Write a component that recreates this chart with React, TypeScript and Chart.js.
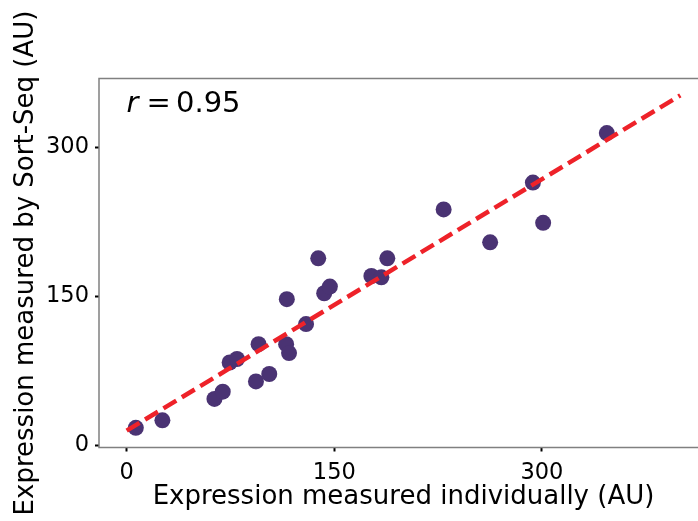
import React, { useEffect, useRef } from "react";
import { Chart, registerables } from "chart.js";

Chart.register(...registerables);

const individualX = [6.6, 25.8, 63.4, 69.4, 74.4, 79.7, 93.4, 95.3, 103.0, 115.7, 115.2, 117.3, 129.6, 138.4, 142.7, 146.8, 176.8, 184.0, 188.3, 229.0, 262.6, 293.5, 300.9, 346.9];
const sortSeqY = [17.3, 24.9, 46.5, 53.8, 83.2, 86.7, 64.1, 101.7, 71.6, 147.0, 101.7, 92.7, 121.9, 188.2, 153.0, 159.7, 170.4, 169.1, 188.2, 237.5, 204.3, 264.6, 224.0, 314.5];
const fitX = [0, 400];
const fitY = [14.5, 352.5];
const tickValues = [0, 150, 300];
const xTitle = "Expression measured individually (AU)";
const yTitle = "Expression measured by Sort-Seq (AU)";
const annotation = { r: "r", eq: "=", value: "0.95" };

const FONT = "'DejaVu Sans', sans-serif";

const framePlugin = {
  id: "frame",
  afterDatasetsDraw(chart: any) {
    const { ctx, chartArea } = chart;
    const { left, top, right, bottom } = chartArea;
    ctx.save();
    ctx.strokeStyle = "#808080";
    ctx.lineWidth = 1.5;
    ctx.beginPath();
    ctx.moveTo(right + 2, top);
    ctx.lineTo(left, top);
    ctx.lineTo(left, bottom);
    ctx.lineTo(right + 2, bottom);
    ctx.stroke();
    ctx.fillStyle = "#000";
    ctx.textBaseline = "alphabetic";
    ctx.textAlign = "left";
    const bx = left + 27.5;
    const by = top + 33.2;
    ctx.font = `italic 29px ${FONT}`;
    ctx.fillText(annotation.r, bx, by);
    ctx.font = `29px ${FONT}`;
    ctx.fillText(annotation.eq, bx + 20, by);
    ctx.fillText(annotation.value, bx + 49.5, by);
    ctx.restore();
  },
};

export default function App() {
  const ref = useRef<HTMLCanvasElement>(null);
  useEffect(() => {
    if (!ref.current) return;
    const points = individualX.map((x, i) => ({ x, y: sortSeqY[i] }));
    const fit = fitX.map((x, i) => ({ x, y: fitY[i] }));
    const tickCfg = (axis: any) => {
      axis.ticks = tickValues.map((v) => ({ value: v }));
    };
    const chart = new Chart(ref.current, {
      type: "scatter",
      data: {
        datasets: [
          {
            type: "line",
            data: fit,
            borderColor: "#ee2229",
            borderWidth: 4.5,
            borderDash: [15, 6.5],
            pointRadius: 0,
            fill: false,
            order: 0,
          } as any,
          {
            type: "scatter",
            data: points,
            backgroundColor: "#4a3373",
            borderColor: "#4a3373",
            borderWidth: 0,
            pointRadius: 8,
            order: 1,
          },
        ],
      },
      options: {
        animation: false,
        responsive: false,
        devicePixelRatio: 1,
        layout: { padding: { top: 78.5, left: 0, right: 6, bottom: 0 } },
        plugins: { legend: { display: false }, tooltip: { enabled: false } },
        scales: {
          x: {
            type: "linear",
            min: -20,
            max: 420,
            afterBuildTicks: tickCfg,
            afterFit: (s: any) => { s.height = 73.5; },
            ticks: { font: { family: FONT, size: 22.5 }, color: "#000", padding: 8 },
            grid: { drawOnChartArea: false, drawTicks: true, tickLength: 4, tickWidth: 2, tickColor: "#000" },
            border: { display: false },
            title: { display: true, text: xTitle, font: { family: FONT, size: 26 }, color: "#000", padding: { top: 0, bottom: 8.5 } },
          },
          y: {
            type: "linear",
            min: -2.5,
            max: 369.5,
            afterBuildTicks: tickCfg,
            afterFit: (s: any) => { s.width = 99; },
            ticks: { font: { family: FONT, size: 22.5 }, color: "#000", padding: 6 },
            grid: { drawOnChartArea: false, drawTicks: true, tickLength: 4, tickWidth: 2, tickColor: "#000" },
            border: { display: false },
            title: { display: true, text: yTitle, font: { family: FONT, size: 26 }, color: "#000", padding: { top: 11, bottom: 0 } },
          },
        },
      },
      plugins: [framePlugin],
    });
    return () => chart.destroy();
  }, []);
  return (
    <div style={{ position: "fixed", left: 0, top: 0, width: 698, height: 521, overflow: "hidden", background: "#fff" }}>
      <canvas ref={ref} width={716} height={521} style={{ width: 716, height: 521, display: "block" }} />
    </div>
  );
}
